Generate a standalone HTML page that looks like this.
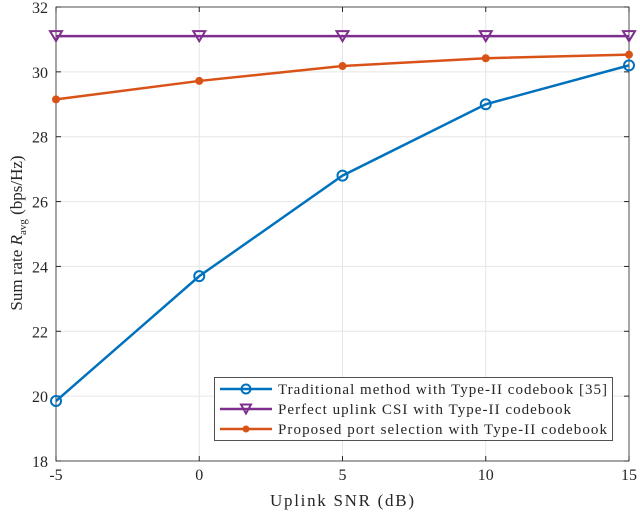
<!DOCTYPE html>
<html><head><meta charset="utf-8"><style>
body{margin:0;background:#fff;}
svg text{font-family:"Liberation Serif",serif;fill:#262626;}
</style></head><body>
<svg id="chart" width="640" height="513" xmlns="http://www.w3.org/2000/svg">
<g id="grid"></g>
<g id="axes"></g>
<g id="series"></g>
<text x="342" y="506" font-size="17" text-anchor="middle" textLength="144">Uplink SNR (dB)</text>
<text transform="translate(22,233) rotate(-90)" font-size="17" text-anchor="middle">Sum rate <tspan font-style="italic">R</tspan><tspan font-size="11" dy="4">avg</tspan><tspan dy="-4"> (bps/Hz)</tspan></text>
<g>
<rect x="214.5" y="377.5" width="398" height="63" fill="#fff" stroke="#262626" stroke-width="0.8"/>
<g>
<line x1="220" y1="389" x2="272" y2="389" stroke="#0072BD" stroke-width="2.5"/>
<circle cx="246" cy="389" r="4.5" fill="none" stroke="#0072BD" stroke-width="2"/>
<text x="278" y="394" font-size="15" textLength="329">Traditional method with Type-II codebook [35]</text></g>
<g>
<line x1="220" y1="409" x2="272" y2="409" stroke="#7E2F8E" stroke-width="2.5"/>
<path d="M241,404.5 L251,404.5 L246,413.5 Z" fill="none" stroke="#7E2F8E" stroke-width="2"/>
<text x="278" y="414" font-size="15" textLength="293">Perfect uplink CSI with Type-II codebook</text></g>
<g>
<line x1="220" y1="429" x2="272" y2="429" stroke="#D95319" stroke-width="2.5"/>
<circle cx="246" cy="429" r="3.5" fill="#D95319"/>
<text x="278" y="434" font-size="15" textLength="329">Proposed port selection with Type-II codebook</text></g>
</g>
</svg>
<script>
const xTicks=[-5,0,5,10,15];
const yTicks=[18,20,22,24,26,28,30,32];
const snr=[-5,0,5,10,15];
const traditional=[19.85,23.7,26.8,29.0,30.2];
const perfect=[31.1,31.1,31.1,31.1,31.1];
const proposed=[29.15,29.72,30.18,30.42,30.53];
const L=56,R=629,T=7,B=461;
const X=v=>L+(v+5)/20*(R-L);
const Y=v=>B-(v-18)/14*(B-T);
const NS="http://www.w3.org/2000/svg";
function mk(tag,attrs,parent){const e=document.createElementNS(NS,tag);for(const k in attrs)e.setAttribute(k,attrs[k]);parent.appendChild(e);return e;}
const grid=document.getElementById('grid'),axes=document.getElementById('axes'),ser=document.getElementById('series');
xTicks.forEach(t=>{const g=mk('line',{x1:X(t),x2:X(t),y1:T,y2:B,stroke:'#e6e6e6','stroke-width':1},grid);

const tx=mk('text',{x:X(t),y:B+19,'font-size':16,'text-anchor':'middle'},axes);tx.textContent=t;

mk('line',{x1:X(t),x2:X(t),y1:B,y2:B-5,stroke:'#262626'},axes);mk('line',{x1:X(t),x2:X(t),y1:T,y2:T+5,stroke:'#262626'},axes);});
yTicks.forEach(t=>{const g=mk('line',{x1:L,x2:R,y1:Y(t),y2:Y(t),stroke:'#e6e6e6','stroke-width':1},grid);

const tx=mk('text',{x:L-8,y:Y(t)+6,'font-size':16,'text-anchor':'end'},axes);tx.textContent=t;

mk('line',{x1:L,x2:L+5,y1:Y(t),y2:Y(t),stroke:'#262626'},axes);mk('line',{x1:R,x2:R-5,y1:Y(t),y2:Y(t),stroke:'#262626'},axes);});
const fr=mk('rect',{x:L,y:T,width:R-L,height:B-T,fill:'none',stroke:'#262626','stroke-width':0.8},axes);

function series(vals,color,marker,name){
const pts=snr.map((s,i)=>X(s)+','+Y(vals[i])).join(' ');
const pl=mk('polyline',{points:pts,fill:'none',stroke:color,'stroke-width':2.5},ser);

snr.forEach((s,i)=>{const x=X(s),y=Y(vals[i]);let m;
if(marker==='o')m=mk('circle',{cx:x,cy:y,r:5,fill:'none',stroke:color,'stroke-width':2},ser);
else if(marker==='v')m=mk('path',{d:`M${x-6},${y-5} L${x+6},${y-5} L${x},${y+5} Z`,fill:'none',stroke:color,'stroke-width':2},ser);
else m=mk('circle',{cx:x,cy:y,r:4,fill:color},ser);
});}
series(traditional,'#0072BD','o','traditional');
series(perfect,'#7E2F8E','v','perfect');
series(proposed,'#D95319','*','proposed');
</script>
</body></html>
